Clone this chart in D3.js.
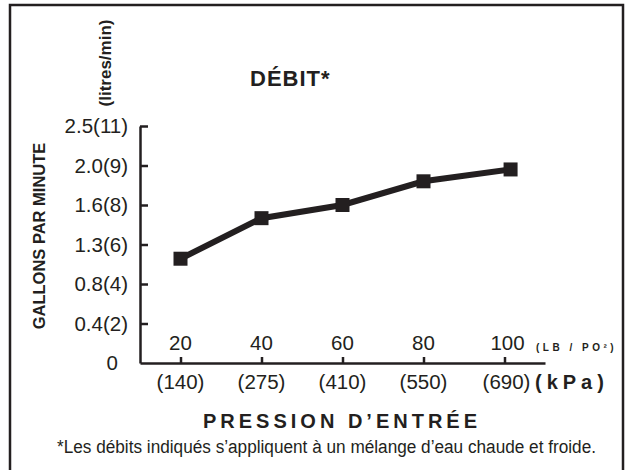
<!DOCTYPE html>
<html>
<head>
<meta charset="utf-8">
<script src="https://cdn.jsdelivr.net/npm/d3@7"></script>
<style>
  body { margin: 0; background: #fff; }
  text { font-family: Arial, "Liberation Sans", sans-serif; fill: #231f20; }
</style>
</head>
<body>
<div id="chart"></div>
<script>
// Data
var pressurePsi = [20, 40, 60, 80, 101.5];
var flowGpm = [1.12, 1.5, 1.6, 1.84, 1.96];

var xTickValues = [20, 40, 60, 80, 100];
var xTickKpa = ["(140)", "(275)", "(410)", "(550)", "(690)"];
var yTickValues = [0, 0.4, 0.8, 1.3, 1.6, 2.0, 2.5];
var yTickLabels = ["0", "0.4(2)", "0.8(4)", "1.3(6)", "1.6(8)", "2.0(9)", "2.5(11)"];

var width = 628, height = 470;
var ink = "#231f20";

var svg = d3.select("#chart").append("svg")
  .attr("width", width)
  .attr("height", height);

// frame
svg.append("rect")
  .attr("x", 10).attr("y", 5)
  .attr("width", 613).attr("height", 480)
  .attr("fill", "none")
  .attr("stroke", ink)
  .attr("stroke-width", 2.5);

// scales
var x = d3.scaleLinear().domain([10, 110]).range([140, 545]);
var yBottom = 363, yTop = 126;
var step = (yBottom - yTop) / (yTickValues.length - 1);
var y = d3.scaleLinear()
  .domain(yTickValues)
  .range(yTickValues.map(function(d, i) { return yBottom - i * step; }));

// y axis (ticks point inward)
var yAxis = d3.axisLeft(y)
  .tickValues(yTickValues.slice(1))
  .tickSizeInner(-8)
  .tickSizeOuter(0)
  .tickPadding(12)
  .tickFormat(function(d) { return yTickLabels[yTickValues.indexOf(d)]; });

var gy = svg.append("g")
  .attr("transform", "translate(140,0)")
  .call(yAxis);
gy.select(".domain").attr("stroke", ink).attr("stroke-width", 2.5);
gy.selectAll(".tick line").attr("stroke", ink).attr("stroke-width", 2.5);
gy.selectAll(".tick text")
  .attr("fill", ink)
  .style("font-size", "20.5px")
  .style("font-family", "Arial, 'Liberation Sans', sans-serif");

// "0" label at the origin
svg.append("text")
  .attr("x", 118)
  .attr("y", y(0))
  .attr("dy", "0.35em")
  .attr("text-anchor", "end")
  .style("font-size", "20.5px")
  .text(yTickLabels[0]);

// x axis (ticks point upward)
var xAxis = d3.axisBottom(x)
  .tickValues(xTickValues)
  .tickSizeInner(-6)
  .tickSizeOuter(0)
  .tickFormat("");

var gx = svg.append("g")
  .attr("transform", "translate(0," + y(0) + ")")
  .call(xAxis);
gx.select(".domain").attr("stroke", ink).attr("stroke-width", 2.5);
gx.selectAll(".tick line").attr("stroke", ink).attr("stroke-width", 2.5);

// psi labels above the axis
svg.selectAll("text.psi")
  .data(xTickValues)
  .enter()
  .append("text")
  .attr("class", "psi")
  .attr("x", function(d) { return x(d) + (d === 100 ? 3 : 0); })
  .attr("y", 350)
  .attr("text-anchor", "middle")
  .style("font-size", "20.5px")
  .text(function(d) { return d; });

// kPa labels below the axis
svg.selectAll("text.kpa")
  .data(xTickValues)
  .enter()
  .append("text")
  .attr("class", "kpa")
  .attr("x", function(d) { return x(d) + (d === 100 ? 2 : 0); })
  .attr("y", 389)
  .attr("text-anchor", "middle")
  .style("font-size", "20.5px")
  .text(function(d, i) { return xTickKpa[i]; });

// unit labels
svg.append("text")
  .attr("x", 536).attr("y", 351)
  .style("font-size", "10px")
  .style("font-weight", "bold")
  .style("letter-spacing", "3.5px")
  .text("(LB / PO²)");

svg.append("text")
  .attr("x", 535).attr("y", 389)
  .style("font-size", "20px")
  .style("font-weight", "bold")
  .style("letter-spacing", "5px")
  .text("(kPa)");

// x axis title
svg.append("text")
  .attr("x", 203).attr("y", 428)
  .style("font-size", "20px")
  .style("font-weight", "bold")
  .style("letter-spacing", "4px")
  .text("PRESSION D’ENTRÉE");

// footnote
svg.append("text")
  .attr("x", 57).attr("y", 453)
  .attr("textLength", 539)
  .attr("lengthAdjust", "spacingAndGlyphs")
  .style("font-size", "18px")
  .text("*Les débits indiqués s’appliquent à un mélange d’eau chaude et froide.");

// chart title
svg.append("text")
  .attr("x", 250).attr("y", 86)
  .style("font-size", "22px")
  .style("font-weight", "bold")
  .style("letter-spacing", "1px")
  .text("DÉBIT*");

// rotated y titles
svg.append("text")
  .attr("transform", "translate(45,236) rotate(-90)")
  .attr("text-anchor", "middle")
  .style("font-size", "16.5px")
  .style("font-weight", "bold")
  .text("GALLONS PAR MINUTE");

svg.append("text")
  .attr("transform", "translate(111,63) rotate(-90)")
  .attr("text-anchor", "middle")
  .style("font-size", "17px")
  .style("font-weight", "bold")
  .text("(litres/min)");

// data line
var points = pressurePsi.map(function(p, i) { return [p, flowGpm[i]]; });

svg.append("path")
  .datum(points)
  .attr("fill", "none")
  .attr("stroke", ink)
  .attr("stroke-width", 6)
  .attr("d", d3.line()
    .x(function(d) { return x(d[0]); })
    .y(function(d) { return y(d[1]); }));

svg.selectAll("rect.marker")
  .data(points)
  .enter()
  .append("rect")
  .attr("class", "marker")
  .attr("x", function(d) { return x(d[0]) - 7; })
  .attr("y", function(d) { return y(d[1]) - 7; })
  .attr("width", 14)
  .attr("height", 14)
  .attr("fill", ink);
</script>
</body>
</html>
